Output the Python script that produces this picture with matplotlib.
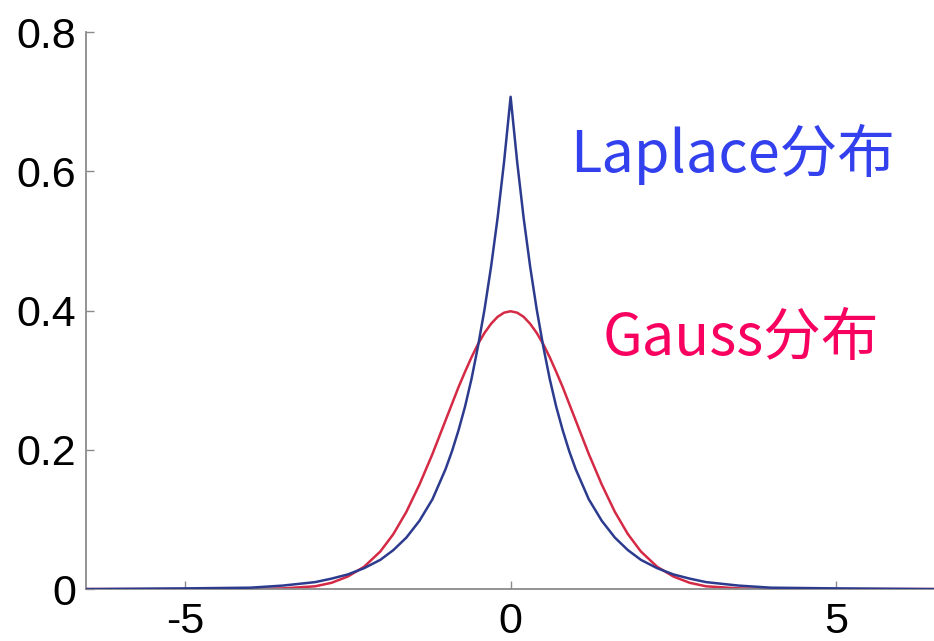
import matplotlib
matplotlib.use("Agg")
import matplotlib.pyplot as plt

# Values
x_vals = [-6.5, -5.0, -4.0, -3.5, -3.0, -2.75, -2.5, -2.25, -2.0, -1.8, -1.6, -1.4, -1.2,
          -1.0, -0.9, -0.8, -0.7, -0.6, -0.5, -0.4, -0.3, -0.2, -0.1, 0.0,
          0.1, 0.2, 0.3, 0.4, 0.5, 0.6, 0.7, 0.8, 0.9, 1.0,
          1.2, 1.4, 1.6, 1.8, 2.0, 2.25, 2.5, 2.75, 3.0, 3.5, 4.0, 5.0, 6.5]
gauss_vals = [0.000, 0.000, 0.000, 0.001, 0.004, 0.009, 0.018, 0.032, 0.054, 0.079, 0.111, 0.150, 0.194,
              0.242, 0.266, 0.290, 0.312, 0.333, 0.352, 0.368, 0.381, 0.391, 0.397, 0.399,
              0.397, 0.391, 0.381, 0.368, 0.352, 0.333, 0.312, 0.290, 0.266, 0.242,
              0.194, 0.150, 0.111, 0.079, 0.054, 0.032, 0.018, 0.009, 0.004, 0.001, 0.000, 0.000, 0.000]
laplace_vals = [0.000, 0.001, 0.002, 0.005, 0.010, 0.015, 0.021, 0.030, 0.042, 0.056, 0.074, 0.098, 0.129,
                0.172, 0.198, 0.228, 0.262, 0.302, 0.349, 0.402, 0.463, 0.533, 0.614, 0.707,
                0.614, 0.533, 0.463, 0.402, 0.349, 0.302, 0.262, 0.228, 0.198, 0.172,
                0.129, 0.098, 0.074, 0.056, 0.042, 0.030, 0.021, 0.015, 0.010, 0.005, 0.002, 0.001, 0.000]
x_ticks = [-5, 0, 5]
x_tick_labels = ["-5", "0", "5"]
y_ticks = [0, 0.2, 0.4, 0.6, 0.8]
y_tick_labels = ["0", "0.2", "0.4", "0.6", "0.8"]
labels = ["Laplace分布", "Gauss分布"]

fig = plt.figure(figsize=(9.34, 6.41), dpi=100)
ax = fig.add_axes([0.092, 0.081, 0.908, 0.869])

ax.plot(x_vals, gauss_vals, color="#d42a45", lw=1.8, zorder=2)
ax.plot(x_vals, laplace_vals, color="#2c3b8e", lw=1.8, zorder=3)

ax.set_xlim(-6.52, 6.5)
ax.set_ylim(0, 0.8)
ax.set_xticks(x_ticks)
ax.set_xticklabels(x_tick_labels)
ax.set_yticks(y_ticks)
ax.set_yticklabels(y_tick_labels)
for s in ["top", "right"]:
    ax.spines[s].set_visible(False)
for s in ["left", "bottom"]:
    ax.spines[s].set_color("#8a8a8a")
    ax.spines[s].set_linewidth(1.3)
ax.tick_params(direction="in", length=6, width=1, color="#8a8a8a",
               labelsize=31, pad=7)
ax.tick_params(axis="x", pad=9)
for lab in ax.get_xticklabels() + ax.get_yticklabels():
    lab.set_family(["Liberation Sans", "DejaVu Sans"])

ax.text(0.91, 0.599, labels[0], color="#3340ee", fontsize=41.5,
        family=["Noto Sans CJK SC", "DejaVu Sans"], va="baseline", ha="left")
ax.text(1.41, 0.336, labels[1], color="#f7005f", fontsize=41.5,
        family=["Noto Sans CJK SC", "DejaVu Sans"], va="baseline", ha="left")

fig.savefig("out.png", dpi=100)
